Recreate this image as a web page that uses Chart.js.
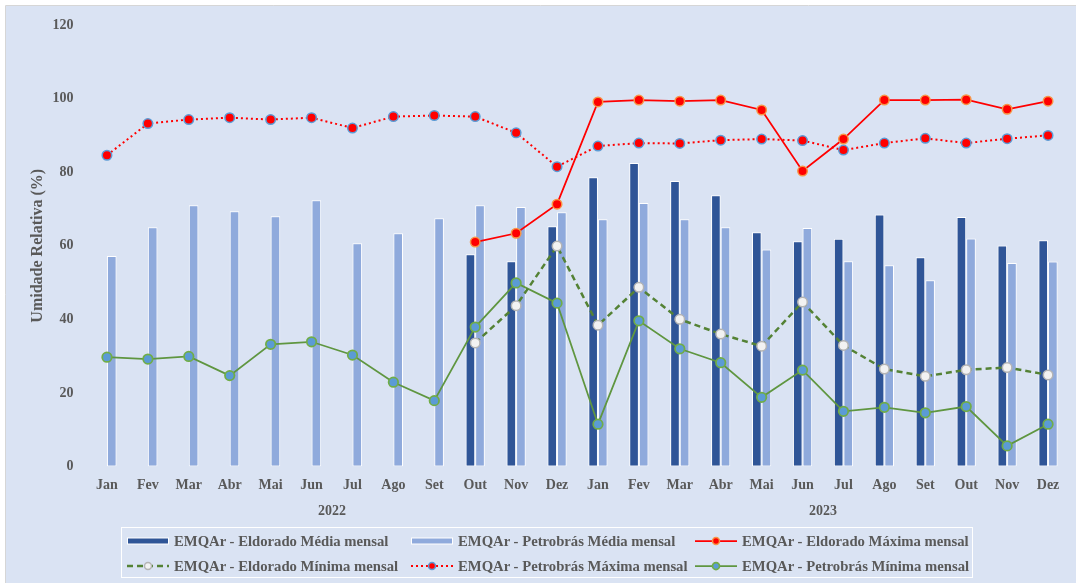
<!DOCTYPE html>
<html lang="pt-BR">
<head>
<meta charset="utf-8">
<title>Umidade Relativa - EMQAr Eldorado e Petrobrás</title>
<script src="https://cdn.jsdelivr.net/npm/chart.js@4.4.0/dist/chart.umd.min.js"></script>
<style>
  html, body { margin: 0; padding: 0; background: #fff; }
  #wrap { position: relative; width: 1076px; height: 583px; overflow: hidden; }
  #legend { position: absolute; left: 121px; top: 527px; width: 852px; height: 51px; border: 1px solid #fff; box-sizing: border-box; }
  .item { position: absolute; height: 18px; display: flex; align-items: center; font: bold 14.7px 'Liberation Serif', 'Times New Roman', serif; color: #595959; white-space: nowrap; }
  .item canvas { margin-right: 5px; }
</style>
</head>
<body>
<div id="wrap">
  <canvas id="umidadeChart" width="1076" height="583"></canvas>
  <div id="legend"></div>
</div>
<script>
// meses (2022 e 2023) e anos do eixo de categorias
const months = ['Jan', 'Fev', 'Mar', 'Abr', 'Mai', 'Jun', 'Jul', 'Ago', 'Set', 'Out', 'Nov', 'Dez',
                'Jan', 'Fev', 'Mar', 'Abr', 'Mai', 'Jun', 'Jul', 'Ago', 'Set', 'Out', 'Nov', 'Dez'];
const years = ['2022', '2023'];

// umidade relativa (%)
const eldoradoMedia = [null, null, null, null, null, null, null, null, null, 57.7, 55.8, 65.3,
                       78.6, 82.5, 77.6, 73.7, 63.7, 61.2, 61.9, 68.5, 56.9, 67.8, 60.1, 61.5];
const petrobrasMedia = [57.2, 65.0, 71.0, 69.4, 68.0, 72.4, 60.7, 63.4, 67.5, 71.0, 70.5, 69.1,
                        67.2, 71.6, 67.2, 65.0, 59.0, 64.8, 55.8, 54.7, 50.6, 62.0, 55.3, 55.7];
const eldoradoMax = [null, null, null, null, null, null, null, null, null, 61.0, 63.4, 71.3,
                     99.1, 99.6, 99.3, 99.6, 96.9, 80.3, 89.0, 99.6, 99.6, 99.7, 97.1, 99.3];
const eldoradoMin = [null, null, null, null, null, null, null, null, null, 33.6, 43.7, 59.9,
                     38.4, 48.7, 40.0, 36.0, 32.7, 44.7, 32.9, 26.5, 24.5, 26.3, 26.9, 24.9];
const petrobrasMax = [84.6, 93.2, 94.3, 94.8, 94.3, 94.8, 92.0, 95.1, 95.4, 95.1, 90.7, 81.5,
                      87.1, 87.9, 87.8, 88.7, 89.0, 88.6, 86.0, 87.9, 89.2, 87.9, 89.1, 90.0];
const petrobrasMin = [29.7, 29.2, 29.9, 24.7, 33.2, 33.9, 30.3, 22.9, 17.9, 37.9, 49.9, 44.4,
                      11.5, 39.6, 32.0, 28.2, 18.8, 26.2, 15.0, 16.1, 14.6, 16.3, 5.6, 11.5];
const yTicks = { min: 0, max: 120, step: 20 };

Chart.defaults.font.family = "'Liberation Serif', 'Times New Roman', serif";
Chart.defaults.font.weight = 'bold';
Chart.defaults.font.size = 14;
Chart.defaults.color = '#595959';

// fundo azul claro com borda cinza, como no gráfico do Excel
const fundo = {
    id: 'fundo',
    beforeDraw(chart) {
        const c = chart.ctx;
        c.save();
        c.fillStyle = '#ffffff';
        c.fillRect(0, 0, chart.width, chart.height);
        c.fillStyle = '#dae3f3';
        c.fillRect(6, 6, chart.width - 6, chart.height - 6);
        c.strokeStyle = '#d6d6d6';
        c.lineWidth = 1;
        c.beginPath();
        c.moveTo(5.5, chart.height);
        c.lineTo(5.5, 5.5);
        c.lineTo(chart.width, 5.5);
        c.stroke();
        c.restore();
    }
};

const barBase = { type: 'bar', borderColor: '#ffffff', borderWidth: 1, borderSkipped: false,
                  categoryPercentage: 0.47, barPercentage: 1, order: 2 };

const chart = new Chart(document.getElementById('umidadeChart').getContext('2d'), {
    type: 'bar',
    data: {
        labels: months,
        datasets: [
            { ...barBase, label: 'EMQAr - Eldorado Média mensal', data: eldoradoMedia, backgroundColor: '#2f5597' },
            { ...barBase, label: 'EMQAr - Petrobrás Média mensal', data: petrobrasMedia, backgroundColor: '#8faadc' },
            { type: 'line', label: 'EMQAr - Eldorado Máxima mensal', data: eldoradoMax, order: 1,
              borderColor: '#ff0000', borderWidth: 1.75, tension: 0,
              pointRadius: 4.75, pointBackgroundColor: '#ff0000', pointBorderColor: '#f79646', pointBorderWidth: 1.5 },
            { type: 'line', label: 'EMQAr - Eldorado Mínima mensal', data: eldoradoMin, order: 1,
              borderColor: '#548235', borderWidth: 2.5, borderDash: [6, 4], tension: 0,
              pointRadius: 4.75, pointBackgroundColor: '#f2f2f2', pointBorderColor: '#b4b4b4', pointBorderWidth: 1.5 },
            { type: 'line', label: 'EMQAr - Petrobrás Máxima mensal', data: petrobrasMax, order: 1,
              borderColor: '#ff0000', borderWidth: 2, borderDash: [2, 3], tension: 0,
              pointRadius: 4.75, pointBackgroundColor: '#ff0000', pointBorderColor: '#5b9bd5', pointBorderWidth: 1.5 },
            { type: 'line', label: 'EMQAr - Petrobrás Mínima mensal', data: petrobrasMin, order: 1,
              borderColor: '#5f9640', borderWidth: 1.75, tension: 0,
              pointRadius: 4.75, pointBackgroundColor: '#5b9bd5', pointBorderColor: '#70ad47', pointBorderWidth: 1.75 }
        ]
    },
    options: {
        responsive: false,
        animation: false,
        layout: { padding: { top: 25, right: 7.5, bottom: 60, left: 0 } },
        plugins: { legend: { display: false }, tooltip: { enabled: false } },
        scales: {
            x: {
                offset: true,
                grid: { display: false, drawTicks: false },
                border: { display: false },
                ticks: { autoSkip: false, maxRotation: 0, padding: 10 },
                afterFit: s => { s.height = 27; }
            },
            x2: {
                type: 'category',
                labels: years,
                position: 'bottom',
                weight: 1,
                offset: true,
                grid: { display: false, drawTicks: false },
                border: { display: false },
                ticks: { maxRotation: 0, padding: 9 },
                afterFit: s => { s.height = 29.5; }
            },
            y: {
                min: yTicks.min,
                max: yTicks.max,
                grid: { display: false, drawTicks: false },
                border: { display: false },
                ticks: { stepSize: yTicks.step, padding: 13 },
                title: { display: true, text: 'Umidade Relativa (%)', font: { size: 16, weight: 'bold' }, padding: { top: 28, bottom: 0 } },
                afterFit: s => { s.width = 86.5; }
            }
        }
    },
    plugins: [fundo]
});

// legenda em duas linhas de três itens, com o símbolo de cada série
function drawSymbol(g, ds) {
    const w = 42, y = 6;
    if (ds.type === 'bar') {
        g.fillStyle = '#ffffff';
        g.fillRect(0, y - 3.5, w, 7);
        g.fillStyle = ds.backgroundColor;
        g.fillRect(1, y - 2.5, w - 2, 5);
        return;
    }
    g.strokeStyle = ds.borderColor;
    g.lineWidth = ds.borderWidth;
    g.setLineDash(ds.borderDash || []);
    g.beginPath(); g.moveTo(0, y); g.lineTo(w, y); g.stroke();
    g.setLineDash([]);
    g.beginPath(); g.arc(w / 2, y, 3.5, 0, Math.PI * 2);
    g.fillStyle = ds.pointBackgroundColor; g.fill();
    g.strokeStyle = ds.pointBorderColor; g.lineWidth = ds.pointBorderWidth; g.stroke();
}

const legendEl = document.getElementById('legend');
chart.data.datasets.forEach((ds, i) => {
    const item = document.createElement('div');
    item.className = 'item';
    item.style.left = (5 + 284 * (i % 3)) + 'px';
    item.style.top = (4 + 25 * Math.floor(i / 3)) + 'px';
    const sym = document.createElement('canvas');
    sym.width = 42; sym.height = 12;
    drawSymbol(sym.getContext('2d'), ds);
    item.appendChild(sym);
    item.appendChild(document.createTextNode(ds.label));
    legendEl.appendChild(item);
});
</script>
</body>
</html>
